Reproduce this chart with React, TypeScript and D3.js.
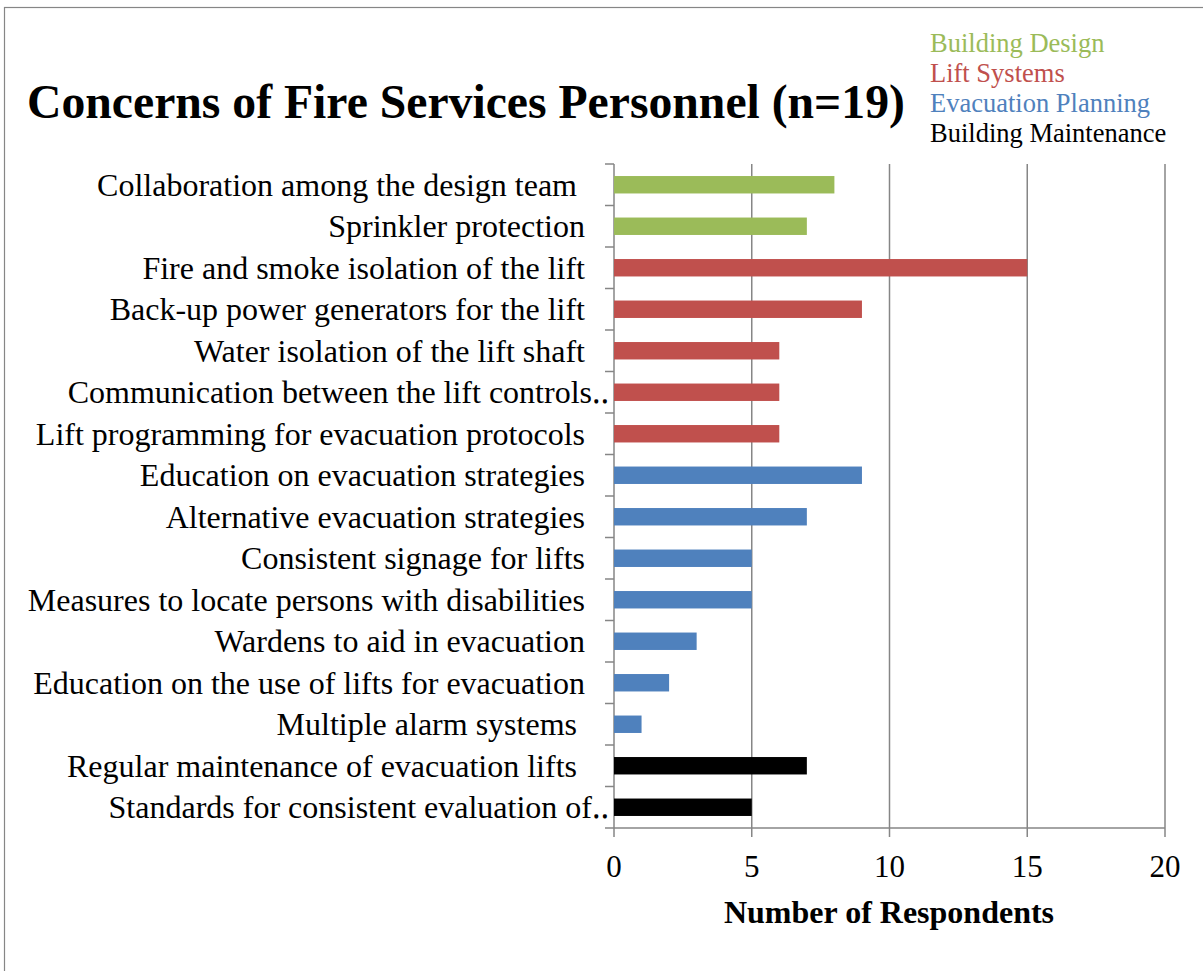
import React from "react";
import * as d3 from "d3";

const categories = [
  "Collaboration among the design team ",
  "Sprinkler protection",
  "Fire and smoke isolation of the lift",
  "Back-up power generators for the lift",
  "Water isolation of the lift shaft",
  "Communication between the lift controls‥",
  "Lift programming for evacuation protocols",
  "Education on evacuation strategies",
  "Alternative evacuation strategies",
  "Consistent signage for lifts",
  "Measures to locate persons with disabilities",
  "Wardens to aid in evacuation",
  "Education on the use of lifts for evacuation",
  "Multiple alarm systems ",
  "Regular maintenance of evacuation lifts ",
  "Standards for consistent evaluation of‥",
];
const values = [8, 7, 15, 9, 6, 6, 6, 9, 7, 5, 5, 3, 2, 1, 7, 5];
const groupOf = [0, 0, 1, 1, 1, 1, 1, 2, 2, 2, 2, 2, 2, 2, 3, 3];
const groupNames = ["Building Design", "Lift Systems", "Evacuation Planning", "Building Maintenance"];
const groupColors = ["#9BBB59", "#C0504D", "#4F81BD", "#000000"];
const xTicks = [0, 5, 10, 15, 20];

const W = 1203;
const H = 971;
const FONT = "'Liberation Serif', 'Times New Roman', serif";

export default function App() {
  const x = d3.scaleLinear().domain([0, 20]).range([614, 1165]);
  const y = d3.scaleBand<number>().domain(d3.range(categories.length)).range([164, 828]).paddingInner(0.58).paddingOuter(0.29);
  const step = (828 - 164) / categories.length;
  const axisColor = "#868686";

  return (
    <svg width={W} height={H} style={{ position: "absolute", left: 0, top: 0, fontFamily: FONT }}>
      <rect x={0} y={0} width={W} height={H} fill="#fff" />
      <rect x={4.5} y={7.5} width={W + 20} height={H + 20} fill="none" stroke="#868686" strokeWidth={1.2} />
      <text x={27} y={118} fontSize={47.7} fontWeight="bold" fill="#000">Concerns of Fire Services Personnel (n=19)</text>
      {groupNames.map((g, i) => (
        <text key={g} x={930} y={52 + i * 30} fontSize={26.5} fill={groupColors[i]}>{g}</text>
      ))}
      {xTicks.map((t) => (
        <line key={"g" + t} x1={x(t)} x2={x(t)} y1={164} y2={837} stroke={axisColor} strokeWidth={1.5} />
      ))}
      <line x1={605} x2={x(20)} y1={828} y2={828} stroke={axisColor} strokeWidth={1.5} />
      {d3.range(categories.length).map((i) => (
        <line key={"t" + i} x1={605} x2={614} y1={164 + i * step} y2={164 + i * step} stroke={axisColor} strokeWidth={1.5} />
      ))}
      {values.map((v, i) => (
        <rect key={"b" + i} x={x(0)} y={y(i)} width={x(v) - x(0)} height={y.bandwidth()} fill={groupColors[groupOf[i]]} />
      ))}
      {categories.map((c, i) => (
        <text key={"c" + i} x={c.endsWith("‥") ? 609 : 585} y={y(i)! + y.bandwidth() / 2} dy="0.35em" textAnchor="end" fontSize={32} fill="#000" style={{ whiteSpace: "pre" }}>{c}</text>
      ))}
      {xTicks.map((t) => (
        <text key={"l" + t} x={x(t)} y={877} textAnchor="middle" fontSize={31} fill="#000">{t}</text>
      ))}
      <text x={889} y={923} textAnchor="middle" fontSize={32} fontWeight="bold" fill="#000">Number of Respondents</text>
    </svg>
  );
}
